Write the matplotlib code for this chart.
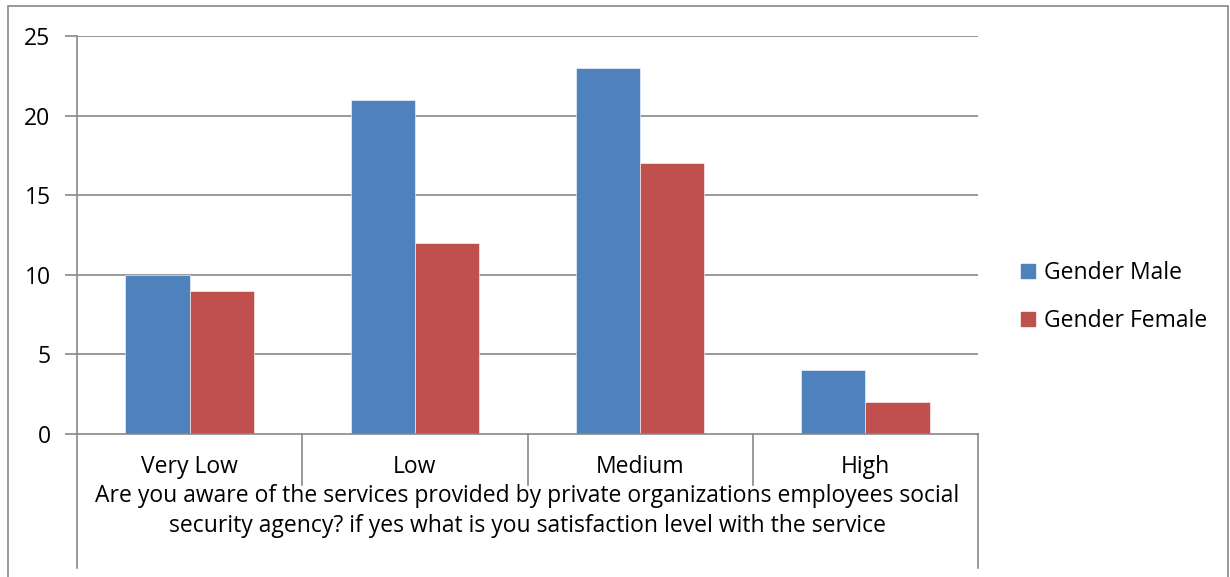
import numpy as np
import matplotlib.pyplot as plt
from matplotlib.patches import Rectangle

# -----------------------------
# Data
# -----------------------------
categories = ["Very Low", "Low", "Medium", "High"]
male = [10, 21, 23, 4]
female = [9, 12, 17, 2]
series_names = ["Gender Male", "Gender Female"]
y_ticks = [0, 5, 10, 15, 20, 25]
axis_title = ("Are you aware of the services provided by private organizations employees social\n"
              "security agency? if yes what is you satisfaction level with the service")

BLUE = "#4F81BD"
RED = "#C0504D"
GRID = "#888888"
FS = 16.5

plt.rcParams["font.family"] = ["Open Sans", "DejaVu Sans"]

W, H = 1230, 577
fig = plt.figure(figsize=(W / 100, H / 100), dpi=100)

# plot area in pixels
px_l, px_r, px_t, px_b = 77, 978, 36, 434
ax = fig.add_axes([px_l / W, 1 - px_b / H, (px_r - px_l) / W, (px_b - px_t) / H])

x = np.arange(len(categories))
bw = 1 / 3.5  # gap width 150%
ax.bar(x - bw / 2, male, bw, color=BLUE, edgecolor="white", linewidth=0.4, label=series_names[0], zorder=3)
ax.bar(x + bw / 2, female, bw, color=RED, edgecolor="white", linewidth=0.4, label=series_names[1], zorder=3)

ax.set_xlim(-0.5, len(categories) - 0.5)
ax.set_ylim(0, 25)
ax.set_yticks(y_ticks)
ax.set_yticklabels([str(t) for t in y_ticks], fontsize=FS)
ax.tick_params(axis="y", length=9, width=1.2, color=GRID, pad=10)
ax.set_xticks([])
for t in y_ticks[1:]:
    ax.axhline(t, color=GRID, linewidth=1.2, zorder=1)
for s in ["top", "right"]:
    ax.spines[s].set_visible(False)
ax.spines["left"].set_color(GRID)
ax.spines["left"].set_linewidth(1.2)
ax.spines["bottom"].set_color(GRID)
ax.spines["bottom"].set_linewidth(1.2)
ax.spines["bottom"].set_zorder(4)

# category "table" below the axis
trans = ax.get_xaxis_transform()
ph = px_b - px_t
def yfrac(py):
    return (px_b - py) / ph

for i in range(len(categories) + 1):
    xb = i - 0.5
    bottom = 568 if i in (0, len(categories)) else 485
    ax.plot([xb, xb], [0, yfrac(bottom)], color=GRID, linewidth=1.2, transform=trans, clip_on=False)

for i, c in enumerate(categories):
    ax.text(i, yfrac(467), c, transform=trans, ha="center", va="center", fontsize=FS)

ax.text(1.5, yfrac(511), axis_title, transform=trans, ha="center", va="center",
        fontsize=FS, linespacing=1.35)

# legend
handles = [Rectangle((0, 0), 1, 1, color=BLUE), Rectangle((0, 0), 1, 1, color=RED)]
fig.legend(handles, series_names, loc="center left", bbox_to_anchor=(1010 / W, 1 - 297 / H),
           frameon=False, fontsize=FS, handlelength=0.6, handleheight=0.6,
           handletextpad=0.4, labelspacing=1.05, borderpad=0)

# outer chart border
fig.patches.append(Rectangle((8 / W, -0.05), (1228 - 8) / W, 1.05 - 6 / H, transform=fig.transFigure,
                             fill=False, edgecolor=GRID, linewidth=1.2))

fig.savefig("out.png", dpi=100)
